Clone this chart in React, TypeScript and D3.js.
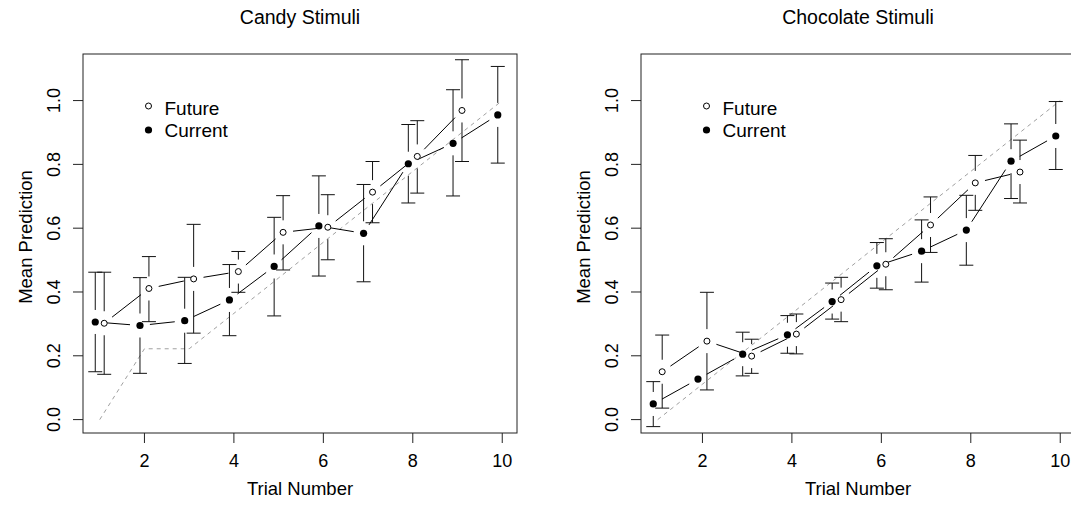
import React from "react";
import * as d3 from "d3";

const trials = [1, 2, 3, 4, 5, 6, 7, 8, 9, 10];
const xTicks = [2, 4, 6, 8, 10];
const yTicks = [0, 0.2, 0.4, 0.6, 0.8, 1.0];

// Candy
const candyFuture = [0.302, 0.411, 0.441, 0.464, 0.587, 0.603, 0.713, 0.825, 0.969];
const candyFutureHi = [0.462, 0.511, 0.612, 0.527, 0.702, 0.705, 0.809, 0.937, 1.128];
const candyFutureLo = [0.142, 0.307, 0.271, 0.399, 0.469, 0.501, 0.617, 0.71, 0.809];
const candyCurrent = [0.306, 0.295, 0.31, 0.375, 0.48, 0.607, 0.584, 0.802, 0.866, 0.955];
const candyCurrentHi = [0.462, 0.445, 0.446, 0.486, 0.634, 0.764, 0.737, 0.925, 1.034, 1.107];
const candyCurrentLo = [0.15, 0.145, 0.176, 0.263, 0.325, 0.45, 0.432, 0.679, 0.701, 0.804];
const candyReference = [0, 0.222, 0.222, 0.333, 0.444, 0.556, 0.667, 0.778, 0.889, 1.0];

// Chocolate
const chocFuture = [0.15, 0.246, 0.199, 0.268, 0.376, 0.487, 0.61, 0.742, 0.776];
const chocFutureHi = [0.265, 0.399, 0.252, 0.331, 0.446, 0.567, 0.698, 0.828, 0.876];
const chocFutureLo = [0.036, 0.093, 0.145, 0.206, 0.307, 0.407, 0.524, 0.656, 0.679];
const chocCurrent = [0.049, 0.127, 0.205, 0.266, 0.37, 0.482, 0.528, 0.594, 0.81, 0.889];
const chocCurrentHi = [0.119, 0.161, 0.274, 0.326, 0.428, 0.555, 0.626, 0.703, 0.927, 0.997];
const chocCurrentLo = [-0.022, 0.093, 0.137, 0.208, 0.315, 0.412, 0.431, 0.484, 0.693, 0.784];
const chocReference = [0, 0.111, 0.222, 0.333, 0.444, 0.556, 0.667, 0.778, 0.889, 1.0];

const FONT = "'Liberation Sans', Arial, Helvetica, sans-serif";
const BOX = { left: 83, right: 517, top: 54, bottom: 433 };
const GAP = 12; // error-bar gap around points
const LINE_GAP = 10; // type="b" gap
const CAP = 7;

type Series = { y: number[]; hi: number[]; lo: number[]; shift: number };

const x = d3.scaleLinear().domain([0.626, 10.33]).range([BOX.left, BOX.right]);
const y = d3.scaleLinear().domain([-0.042, 1.146]).range([BOX.bottom, BOX.top]);

function ErrorBars({ s }: { s: Series }) {
  const out: React.ReactNode[] = [];
  s.y.forEach((v, i) => {
    const px = x(trials[i] + s.shift);
    const py = y(v);
    const up = y(s.hi[i]);
    const dn = y(s.lo[i]);
    if (py - up > GAP) {
      out.push(<line key={"u" + i} x1={px} x2={px} y1={py - GAP} y2={up} />);
      out.push(<line key={"uc" + i} x1={px - CAP} x2={px + CAP} y1={up} y2={up} />);
    }
    if (dn - py > GAP) {
      out.push(<line key={"d" + i} x1={px} x2={px} y1={py + GAP} y2={dn} />);
      out.push(<line key={"dc" + i} x1={px - CAP} x2={px + CAP} y1={dn} y2={dn} />);
    }
  });
  return <g stroke="#111" strokeWidth={1}>{out}</g>;
}

function GappedLine({ s }: { s: Series }) {
  const pts = s.y.map((v, i) => [x(trials[i] + s.shift), y(v)]);
  const segs: React.ReactNode[] = [];
  for (let i = 0; i < pts.length - 1; i++) {
    const [x0, y0] = pts[i];
    const [x1, y1] = pts[i + 1];
    const d = Math.hypot(x1 - x0, y1 - y0);
    if (d <= 2 * LINE_GAP) continue;
    const ux = (x1 - x0) / d;
    const uy = (y1 - y0) / d;
    segs.push(
      <line
        key={i}
        x1={x0 + ux * LINE_GAP}
        y1={y0 + uy * LINE_GAP}
        x2={x1 - ux * LINE_GAP}
        y2={y1 - uy * LINE_GAP}
      />
    );
  }
  return <g stroke="#000" strokeWidth={1}>{segs}</g>;
}

function Panel({
  title,
  dx,
  future,
  current,
  reference,
}: {
  title: string;
  dx: number;
  future: Series;
  current: Series;
  reference: number[];
}) {
  const refLine = d3
    .line<number>()
    .x((_, i) => x(trials[i]))
    .y((d) => y(d));
  const cx = (BOX.left + BOX.right) / 2;
  return (
    <g transform={`translate(${dx},0)`} fontFamily={FONT} fill="#000">
      <text x={cx} y={24} textAnchor="middle" fontSize={19.5}>
        {title}
      </text>
      <path d={refLine(reference) || ""} fill="none" stroke="#a0a0a0" strokeWidth={1} strokeDasharray="4,4" />
      <ErrorBars s={future} />
      <ErrorBars s={current} />
      <GappedLine s={future} />
      <GappedLine s={current} />
      {future.y.map((v, i) => (
        <circle key={"f" + i} cx={x(trials[i] + future.shift)} cy={y(v)} r={3} fill="#fff" stroke="#000" strokeWidth={1} />
      ))}
      {current.y.map((v, i) => (
        <circle key={"c" + i} cx={x(trials[i] + current.shift)} cy={y(v)} r={3.6} fill="#000" />
      ))}
      <rect
        x={BOX.left}
        y={BOX.top}
        width={BOX.right - BOX.left}
        height={BOX.bottom - BOX.top}
        fill="none"
        stroke="#222"
        strokeWidth={1}
      />
      {xTicks.map((t) => (
        <g key={"xt" + t}>
          <line x1={x(t)} x2={x(t)} y1={BOX.bottom} y2={BOX.bottom + 10} stroke="#222" />
          <text x={x(t)} y={467} textAnchor="middle" fontSize={18}>
            {t}
          </text>
        </g>
      ))}
      {yTicks.map((t) => (
        <g key={"yt" + t}>
          <line x1={BOX.left - 10} x2={BOX.left} y1={y(t)} y2={y(t)} stroke="#222" />
          <text
            x={60}
            y={y(t)}
            textAnchor="middle"
            fontSize={18}
            transform={`rotate(-90,60,${y(t)})`}
          >
            {t.toFixed(1)}
          </text>
        </g>
      ))}
      <text x={cx} y={495} textAnchor="middle" fontSize={18.5}>
        Trial Number
      </text>
      <text x={31.5} y={237} textAnchor="middle" fontSize={18.5} transform="rotate(-90,31.5,237)">
        Mean Prediction
      </text>
      {/* legend */}
      <circle cx={148.5} cy={106} r={3} fill="#fff" stroke="#000" />
      <circle cx={148.5} cy={130} r={3.6} fill="#000" />
      <text x={164.5} y={115} fontSize={19}>
        Future
      </text>
      <text x={164.5} y={137} fontSize={19}>
        Current
      </text>
    </g>
  );
}

export default function App() {
  return (
    <div style={{ position: "absolute", left: 0, top: 0 }}>
      <svg width={1071} height={506} style={{ display: "block", background: "#fff" }}>
        <Panel
          title="Candy Stimuli"
          dx={0}
          future={{ y: candyFuture, hi: candyFutureHi, lo: candyFutureLo, shift: 0.1 }}
          current={{ y: candyCurrent, hi: candyCurrentHi, lo: candyCurrentLo, shift: -0.1 }}
          reference={candyReference}
        />
        <Panel
          title="Chocolate Stimuli"
          dx={558}
          future={{ y: chocFuture, hi: chocFutureHi, lo: chocFutureLo, shift: 0.1 }}
          current={{ y: chocCurrent, hi: chocCurrentHi, lo: chocCurrentLo, shift: -0.1 }}
          reference={chocReference}
        />
      </svg>
    </div>
  );
}
